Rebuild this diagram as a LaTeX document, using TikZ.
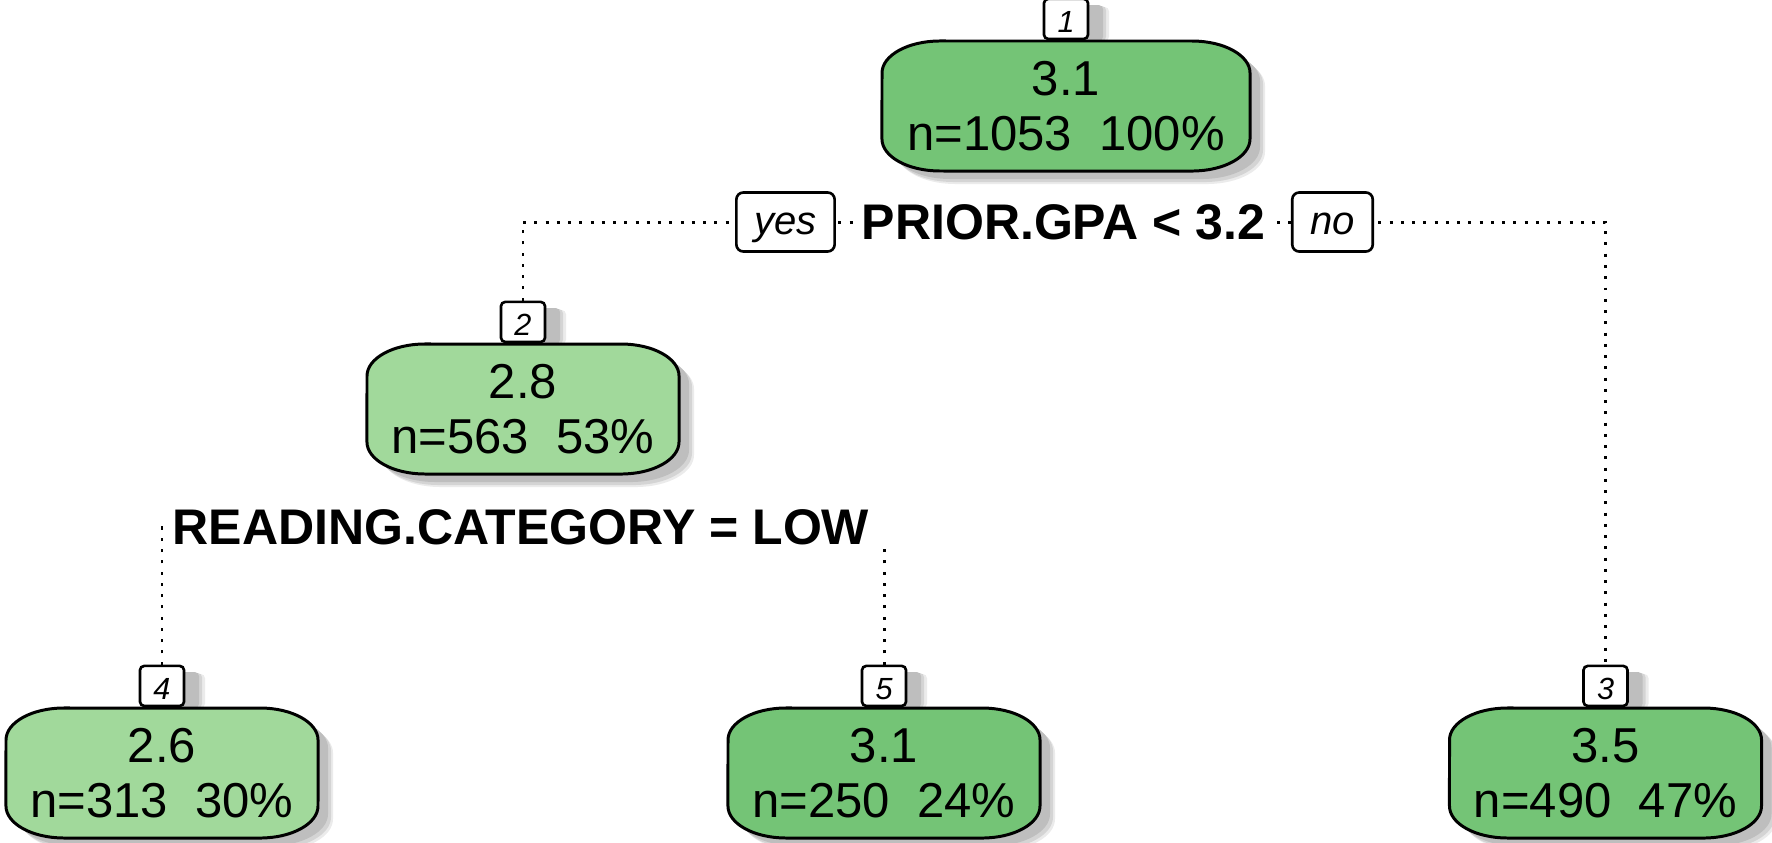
\documentclass[tikz,border=0pt]{standalone}
\usepackage{fontspec}
\setmainfont{Liberation Sans}
\usetikzlibrary{backgrounds}

\definecolor{fillhigh}{HTML}{74C476}
\definecolor{filllow}{HTML}{A1D99B}
\definecolor{shadeA}{HTML}{BEBEBE}
\definecolor{shadeB}{HTML}{D4D4D4}
\definecolor{shadeC}{HTML}{EBEBEB}

% outline of a box with elliptical corners, centred at the origin
% #1 = half width, #2 = half height (pixel units)
\newcommand{\ovalpath}[2]{(-#1+58,-#2) -- (#1-58,-#2)
  arc[start angle=90,end angle=0,x radius=0.58cm,y radius=0.32cm] -- (#1,#2-32)
  arc[start angle=0,end angle=-90,x radius=0.58cm,y radius=0.32cm] -- (-#1+58,#2)
  arc[start angle=270,end angle=180,x radius=0.58cm,y radius=0.32cm] -- (-#1,-#2+32)
  arc[start angle=180,end angle=90,x radius=0.58cm,y radius=0.32cm] -- cycle}

% tree node: #1 name, #2 x, #3 y, #4 half width, #5 fill, #6 number, #7 text
\newcommand{\treenode}[7]{%
  \foreach \dx/\dy/\shadecol in {21/6/shadeC,18/5/shadeB,15/4/shadeA}
    \fill[\shadecol, rounded corners=1.2pt] (#2-22+\dx,#3-105+\dy) rectangle (#2+22+\dx,#3-65);
  \foreach \dx/\dy/\shadecol in {15/13/shadeC,13/11/shadeB,10/8/shadeA}
    \fill[\shadecol, shift={(#2+\dx,#3+\dy)}] \ovalpath{#4}{65};
  \draw[boxline, fill=#5, shift={(#2,#3)}] \ovalpath{#4}{65};
  \node[nodetext, minimum width=#4*0.02cm] (#1) at (#2,#3) {#7};
  \node[tab, anchor=south] (lab#6) at (#1.north) {#6};
}

\tikzset{
  boxline/.style={line width=0.85pt},
  nodetext/.style={align=center, inner sep=0pt, minimum height=1.3cm,
    font=\fontsize{13.94}{15.65}\selectfont},
  tab/.style={draw, fill=white, line width=0.75pt, rounded corners=1.2pt,
    minimum width=0.44cm, minimum height=0.40cm, inner sep=0pt,
    text height=0.28cm, text depth=0cm,
    font=\itshape\fontsize{8.7}{10}\selectfont},
  splitlab/.style={fill=white, inner sep=0.04cm,
    font=\bfseries\fontsize{14.23}{16}\selectfont},
  yesno/.style={draw, fill=white, line width=0.75pt, rounded corners=2pt,
    inner xsep=0.18cm, inner ysep=0pt, minimum height=0.59cm,
    text height=0.32cm, text depth=0.08cm,
    font=\itshape\fontsize{11.38}{13}\selectfont},
  dotline/.style={line width=0.85pt, dash pattern=on 0.85pt off 2.35pt},
}

\begin{document}
\begin{tikzpicture}[x=0.01cm, y=-0.01cm]
  \useasboundingbox (0,0) rectangle (1772,842);

  \treenode{n1}{1066}{106}{184}{fillhigh}{1}{3.1\\n=1053\ \ 100\%}
  \treenode{n2}{523}{409}{156}{filllow}{2}{2.8\\n=563\ \ 53\%}
  \treenode{n4}{162}{773}{156}{filllow}{4}{2.6\\n=313\ \ 30\%}
  \treenode{n5}{884}{773}{156}{fillhigh}{5}{3.1\\n=250\ \ 24\%}
  \treenode{n3}{1605.5}{773}{156}{fillhigh}{3}{3.5\\n=490\ \ 47\%}

  % split labels
  \node[splitlab] (s1) at (1063.5,222) {PRIOR.GPA < 3.2};
  \node[yesno] (yes) at (785.5,222) {yes};
  \node[yesno] (no) at (1332.5,222) {no};
  \node[splitlab] (s2) at (521,527) {READING.CATEGORY = LOW};

  % branches
  \begin{pgfonlayer}{background}
    \draw[dotline] (lab2.north) |- (s1.center) -| (lab3.north);
    \draw[dotline] (lab4.north) |- (s2.west);
    \draw[dotline] (lab5.north) -- (lab5.north |- s2.south);
  \end{pgfonlayer}
\end{tikzpicture}
\end{document}
